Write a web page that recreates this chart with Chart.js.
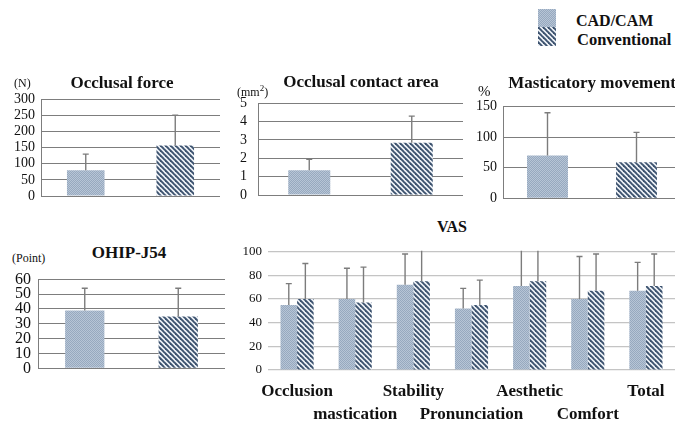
<!DOCTYPE html>
<html>
<head>
<meta charset="utf-8">
<script src="https://cdn.jsdelivr.net/npm/chart.js@4.4.1/dist/chart.umd.min.js"></script>
<style>
    html, body {
        margin: 0;
        padding: 0;
        background: #ffffff;
        overflow: hidden;
    }
    #stage {
        position: relative;
        width: 675px;
        height: 421px;
        font-family: "Liberation Serif", "Times New Roman", serif;
        color: #111;
    }
    canvas {
        position: absolute;
    }
    .txt {
        position: absolute;
        white-space: nowrap;
    }
    .title {
        font-weight: bold;
        font-size: 17px;
        line-height: 17px;
        transform: translateX(-50%);
    }
    .unit {
        font-size: 12px;
        line-height: 12px;
    }
    .leg {
        font-weight: bold;
        font-size: 16px;
        line-height: 16px;
    }
</style>
</head>
<body>
<div id="stage">

    <canvas id="forceChart" width="222" height="121" style="left:0px; top:85px;"></canvas>
    <canvas id="areaChart" width="240" height="117" style="left:225px; top:88px;"></canvas>
    <canvas id="moveChart" width="215" height="113" style="left:468px; top:95px;"></canvas>
    <canvas id="ohipChart" width="228" height="110" style="left:0px; top:268px;"></canvas>
    <canvas id="vasChart" width="445" height="181" style="left:230px; top:240px;"></canvas>

    <div class="txt title" style="left:122px; top:74px;">Occlusal force</div>
    <div class="txt unit" style="left:14px; top:77px;">(N)</div>

    <div class="txt title" style="left:361px; top:73px;">Occlusal contact area</div>
    <div class="txt unit" style="left:237px; top:82px;">(mm<sup style="font-size:9px;">2</sup>)</div>

    <div class="txt title" style="left:592px; top:74px;">Masticatory movement</div>
    <div class="txt unit" style="left:478px; top:84px; font-size:15px; line-height:15px;">%</div>

    <div class="txt title" style="left:129px; top:244px;">OHIP-J54</div>
    <div class="txt unit" style="left:12px; top:252px;">(Point)</div>

    <div class="txt title" style="left:452px; top:218px; font-size:16px;">VAS</div>

    <canvas id="legCad" width="18" height="18" style="left:538px; top:9px;"></canvas>
    <canvas id="legConv" width="18" height="19" style="left:538px; top:27px;"></canvas>
    <div class="txt leg" style="left:576px; top:13px;">CAD/CAM</div>
    <div class="txt leg" style="left:577px; top:32px; font-size:16.5px;">Conventional</div>

</div>

<script>

/* ==========================================
        DATA
========================================== */

const groups = ["CAD/CAM", "Conventional"];

const forceMean = [80, 157];
const forceSd = [50, 94];

const areaMean = [1.35, 2.85];
const areaSd = [0.6, 1.45];

const moveMean = [70, 59];
const moveSd = [70, 49];

const ohipMean = [39, 35];
const ohipSd = [15, 19];

const vasCategories = [
    "Occlusion",
    "mastication",
    "Stability",
    "Pronunciation",
    "Aesthetic",
    "Comfort",
    "Total"
];

const vasCadMean = [55, 60, 72, 52, 71, 60, 67];
const vasCadSd = [18, 26, 26, 17, 32, 36, 24];

const vasConvMean = [60, 57, 75, 55, 75, 67, 71];
const vasConvSd = [30, 30, 28, 21, 27, 31, 27];

// axis max / step per panel
const forceTicks = [300, 50];
const areaTicks = [5, 1];
const moveTicks = [150, 50];
const ohipTicks = [60, 10];
const vasTicks = [100, 20];

/* ==========================================
        PATTERNS
========================================== */

function makeDotPattern() {

    const tile = document.createElement("canvas");
    tile.width = 2;
    tile.height = 2;

    const c = tile.getContext("2d");

    c.fillStyle = "#b7c5d6";
    c.fillRect(0, 0, 2, 2);

    c.fillStyle = "#97a9bf";
    c.fillRect(0, 0, 1, 1);
    c.fillRect(1, 1, 1, 1);

    return c.createPattern(tile, "repeat");

}

function makeStripePattern() {

    const s = 5;

    const tile = document.createElement("canvas");
    tile.width = s;
    tile.height = s;

    const c = tile.getContext("2d");

    c.fillStyle = "#eef2f7";
    c.fillRect(0, 0, s, s);

    c.strokeStyle = "#3c526e";
    c.lineWidth = 1.9;

    [-s, 0, s].forEach(off => {
        c.beginPath();
        c.moveTo(-1, off - 1);
        c.lineTo(s + 1, s + off + 1);
        c.stroke();
    });

    return c.createPattern(tile, "repeat");

}

const cadFill = makeDotPattern();
const convFill = makeStripePattern();

/* ==========================================
        ERROR BARS
========================================== */

const errorBars = {

    id: "errorBars",

    afterDatasetsDraw(chart) {

        const ctx = chart.ctx;
        const area = chart.chartArea;
        const yScale = chart.scales.y;

        ctx.save();

        ctx.beginPath();
        ctx.rect(area.left, area.top - 1, area.right - area.left, area.bottom - area.top + 1);
        ctx.clip();

        ctx.strokeStyle = "#7c7c7c";
        ctx.lineWidth = 1.4;

        chart.data.datasets.forEach((ds, i) => {

            const meta = chart.getDatasetMeta(i);

            meta.data.forEach((bar, j) => {

                const top = yScale.getPixelForValue(ds.data[j] + ds.errors[j]);

                ctx.beginPath();
                ctx.moveTo(bar.x, bar.y);
                ctx.lineTo(bar.x, top);
                ctx.moveTo(bar.x - 3, top);
                ctx.lineTo(bar.x + 3, top);
                ctx.stroke();

            });

        });

        ctx.restore();

    }

};

// fixed axis width, and no extra label padding so the plot area sits where asked
function fixAxis(width) {
    return scale => {
        scale.width = width;
        scale.paddingTop = 0;
        scale.paddingBottom = 0;
    };
}

/* ==========================================
        SMALL PANELS
========================================== */

Chart.defaults.font.family = "'Liberation Serif', 'Times New Roman', serif";
Chart.defaults.color = "#111";

function smallPanel(id, means, sds, ticks, box) {

    return new Chart(document.getElementById(id), {

        type: "bar",

        data: {
            labels: groups,
            datasets: [
                {
                    data: means,
                    errors: sds,
                    backgroundColor: [cadFill, convFill],
                    borderWidth: 0,
                    barPercentage: box.bar,
                    categoryPercentage: 1
                }
            ]
        },

        options: {
            responsive: false,
            animation: false,
            devicePixelRatio: 1,
            layout: {
                padding: {
                    top: box.top,
                    bottom: box.bottom,
                    right: box.right,
                    left: 0
                }
            },
            plugins: {
                legend: { display: false },
                tooltip: { enabled: false }
            },
            scales: {
                x: {
                    display: false
                },
                y: {
                    min: 0,
                    max: ticks[0],
                    afterFit: fixAxis(box.axis),
                    ticks: {
                        stepSize: ticks[1],
                        autoSkip: false,
                        padding: box.pad,
                        font: { size: box.font },
                        color: "#111"
                    },
                    grid: {
                        color: "#7d7d7d",
                        lineWidth: 1,
                        drawTicks: false
                    },
                    border: {
                        display: true,
                        color: "#7d7d7d"
                    }
                }
            }
        },

        plugins: [errorBars]

    });

}

smallPanel("forceChart", forceMean, forceSd, forceTicks,
    { top: 14.3, bottom: 10, right: 2, axis: 41, pad: 6, font: 14, bar: 0.42 });

smallPanel("areaChart", areaMean, areaSd, areaTicks,
    { top: 15.3, bottom: 10, right: 2, axis: 33, pad: 11, font: 14, bar: 0.41 });

smallPanel("moveChart", moveMean, moveSd, moveTicks,
    { top: 11.7, bottom: 9.7, right: 2, axis: 35, pad: 6, font: 14, bar: 0.46 });

smallPanel("ohipChart", ohipMean, ohipSd, ohipTicks,
    { top: 11.3, bottom: 9.7, right: 3, axis: 38, pad: 7, font: 16, bar: 0.42 });

/* ==========================================
        VAS PANEL
========================================== */

const vasLabels = vasCategories.map((c, i) => i % 2 === 0 ? [c, ""] : ["", c]);

new Chart(document.getElementById("vasChart"), {

    type: "bar",

    data: {
        labels: vasLabels,
        datasets: [
            {
                label: "CAD/CAM",
                data: vasCadMean,
                errors: vasCadSd,
                backgroundColor: cadFill,
                borderWidth: 0,
                barPercentage: 1,
                categoryPercentage: 0.57
            },
            {
                label: "Conventional",
                data: vasConvMean,
                errors: vasConvSd,
                backgroundColor: convFill,
                borderWidth: 0,
                barPercentage: 1,
                categoryPercentage: 0.57
            }
        ]
    },

    options: {
        responsive: false,
        animation: false,
        devicePixelRatio: 1,
        layout: {
            padding: { top: 11.7, bottom: 0, left: 0, right: 0 }
        },
        plugins: {
            legend: { display: false },
            tooltip: { enabled: false }
        },
        scales: {
            x: {
                afterFit: scale => {
                    scale.height = 51;
                    scale.paddingLeft = 0;
                    scale.paddingRight = 0;
                },
                ticks: {
                    autoSkip: false,
                    maxRotation: 0,
                    minRotation: 0,
                    padding: 10,
                    font: { size: 17, weight: "bold", lineHeight: 1.353 },
                    color: "#111"
                },
                grid: { display: false, drawTicks: false },
                border: { display: false }
            },
            y: {
                min: 0,
                max: vasTicks[0],
                afterFit: fixAxis(38),
                ticks: {
                    stepSize: vasTicks[1],
                    autoSkip: false,
                    padding: 6,
                    font: { size: 13 },
                    color: "#111"
                },
                grid: {
                    color: "#c4c4c4",
                    lineWidth: 1.2,
                    drawTicks: false
                },
                border: { display: false }
            }
        }
    },

    plugins: [errorBars]

});

/* ==========================================
        LEGEND PATCHES
========================================== */

function paintPatch(id, fill) {
    const cv = document.getElementById(id);
    const c = cv.getContext("2d");
    c.fillStyle = fill;
    c.fillRect(0, 0, cv.width, cv.height);
}

paintPatch("legCad", cadFill);
paintPatch("legConv", convFill);

</script>
</body>
</html>
